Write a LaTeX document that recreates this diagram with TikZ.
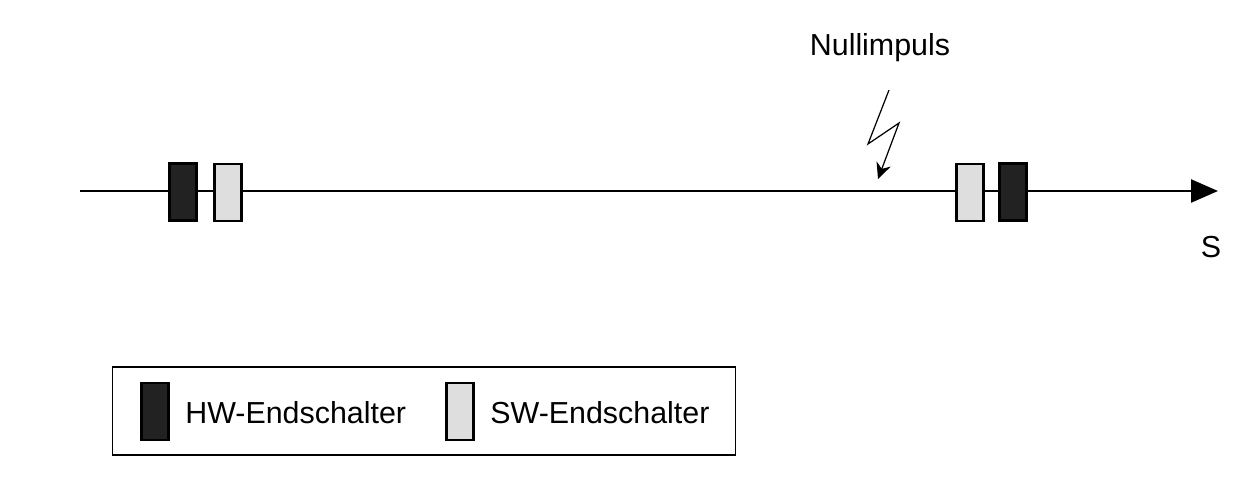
\documentclass[tikz,border=0pt]{standalone}
\usepackage{fontspec}
\setmainfont{Liberation Sans}
\usepackage{xcolor}
\usetikzlibrary{
  positioning,
  calc,
  arrows.meta
}

\definecolor{hwfill}{HTML}{222222}
\definecolor{swfill}{HTML}{DEDEDE}

\tikzset{
  schalter/.style={draw,line width=1.6pt,minimum width=0.54cm,minimum height=1.14cm,inner sep=0pt},
  hw/.style={schalter,fill=hwfill},
  sw/.style={schalter,fill=swfill},
  txt/.style={font=\fontsize{17.3}{20}\selectfont,inner sep=0pt}
}

\begin{document}
\begin{tikzpicture}[x=0.02cm,y=-0.02cm]
  \useasboundingbox (0,0) rectangle (1242,477);

  % Achse s
  \coordinate (s_0) at (80,191);
  \coordinate (s_1) at (1218,191);
  \draw[line width=1.4pt,-{Triangle[length=0.54cm,width=0.46cm]}] (s_0)--(s_1);
  \node[txt] (s) at (1211,247) {S};

  % Endschalter links und rechts
  \node[hw] (hw_1) at (183,192) {};
  \node[sw] (sw_1) at (228,192.5) {};
  \node[sw] (sw_2) at (970,192.5) {};
  \node[hw] (hw_2) at (1013,192) {};

  % Nullimpuls mit Blitz
  \node[txt] (null) at (880,48) {Nullimpuls};
  \coordinate (z_1) at (889,90);
  \coordinate (z_2) at (868,144);
  \coordinate (z_3) at (899,123);
  \coordinate (z_4) at (878,179);
  \draw[line width=0.7pt,-{Stealth[length=0.32cm,width=0.3cm]}] (z_1)--(z_2)--(z_3)--(z_4);

  % Legende
  \node[draw,line width=0.6pt,minimum width=12.48cm,minimum height=1.76cm,inner sep=0pt] (leg) at (424,411) {};
  \node[hw] (leg_hw) at (155,411.5) {};
  \node[txt,anchor=west] (leg_hwt) at (185,413) {HW-Endschalter};
  \node[sw] (leg_sw) at (460,411.5) {};
  \node[txt,anchor=west] (leg_swt) at (490,413) {SW-Endschalter};
\end{tikzpicture}
\end{document}
